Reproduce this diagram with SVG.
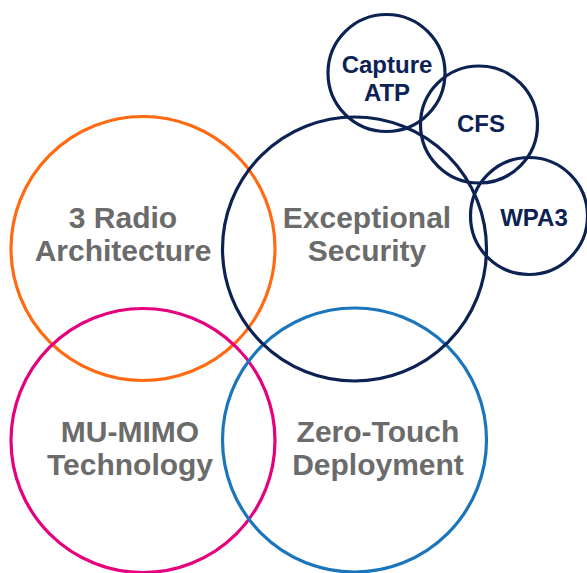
<svg xmlns="http://www.w3.org/2000/svg" width="587" height="573" viewBox="0 0 587 573">
<style>
.c{fill:none;stroke-width:3.2}
.big{font-family:"Liberation Sans",Arial,sans-serif;font-weight:bold;font-size:30px;fill:#6b6b6b;text-anchor:middle}
.sm{font-family:"Liberation Sans",Arial,sans-serif;font-weight:bold;font-size:24px;fill:#0c2252;text-anchor:middle}
</style>
<rect width="587" height="573" fill="#fff"/>
<g id="radio">
<circle class="c" cx="143" cy="248.5" r="132" stroke="#ff6a13"/>
<text class="big" x="123" y="228">3 Radio</text>
<text class="big" x="123" y="261">Architecture</text>
</g>
<g id="mumimo">
<circle class="c" cx="143" cy="440.5" r="132" stroke="#e5007d"/>
<text class="big" x="130" y="442">MU-MIMO</text>
<text class="big" x="130" y="475">Technology</text>
</g>
<g id="zerotouch">
<circle class="c" cx="354.5" cy="440" r="132" stroke="#1b75bb"/>
<text class="big" x="378" y="442">Zero-Touch</text>
<text class="big" x="378" y="475">Deployment</text>
</g>
<g id="security">
<circle class="c" cx="354.5" cy="249" r="132" stroke="#0c2252"/>
<text class="big" x="367" y="228">Exceptional</text>
<text class="big" x="367" y="261">Security</text>
</g>
<g id="captureatp">
<circle class="c" cx="386.5" cy="73" r="58.5" stroke="#0c2252"/>
<text class="sm" x="387" y="73">Capture</text>
<text class="sm" x="387" y="101">ATP</text>
</g>
<g id="cfs">
<circle class="c" cx="479" cy="124.5" r="58.5" stroke="#0c2252"/>
<text class="sm" x="481" y="132">CFS</text>
</g>
<g id="wpa3">
<circle class="c" cx="529" cy="216" r="58.5" stroke="#0c2252"/>
<text class="sm" x="534" y="226">WPA3</text>
</g>
<g id="connectors"/>
</svg>
